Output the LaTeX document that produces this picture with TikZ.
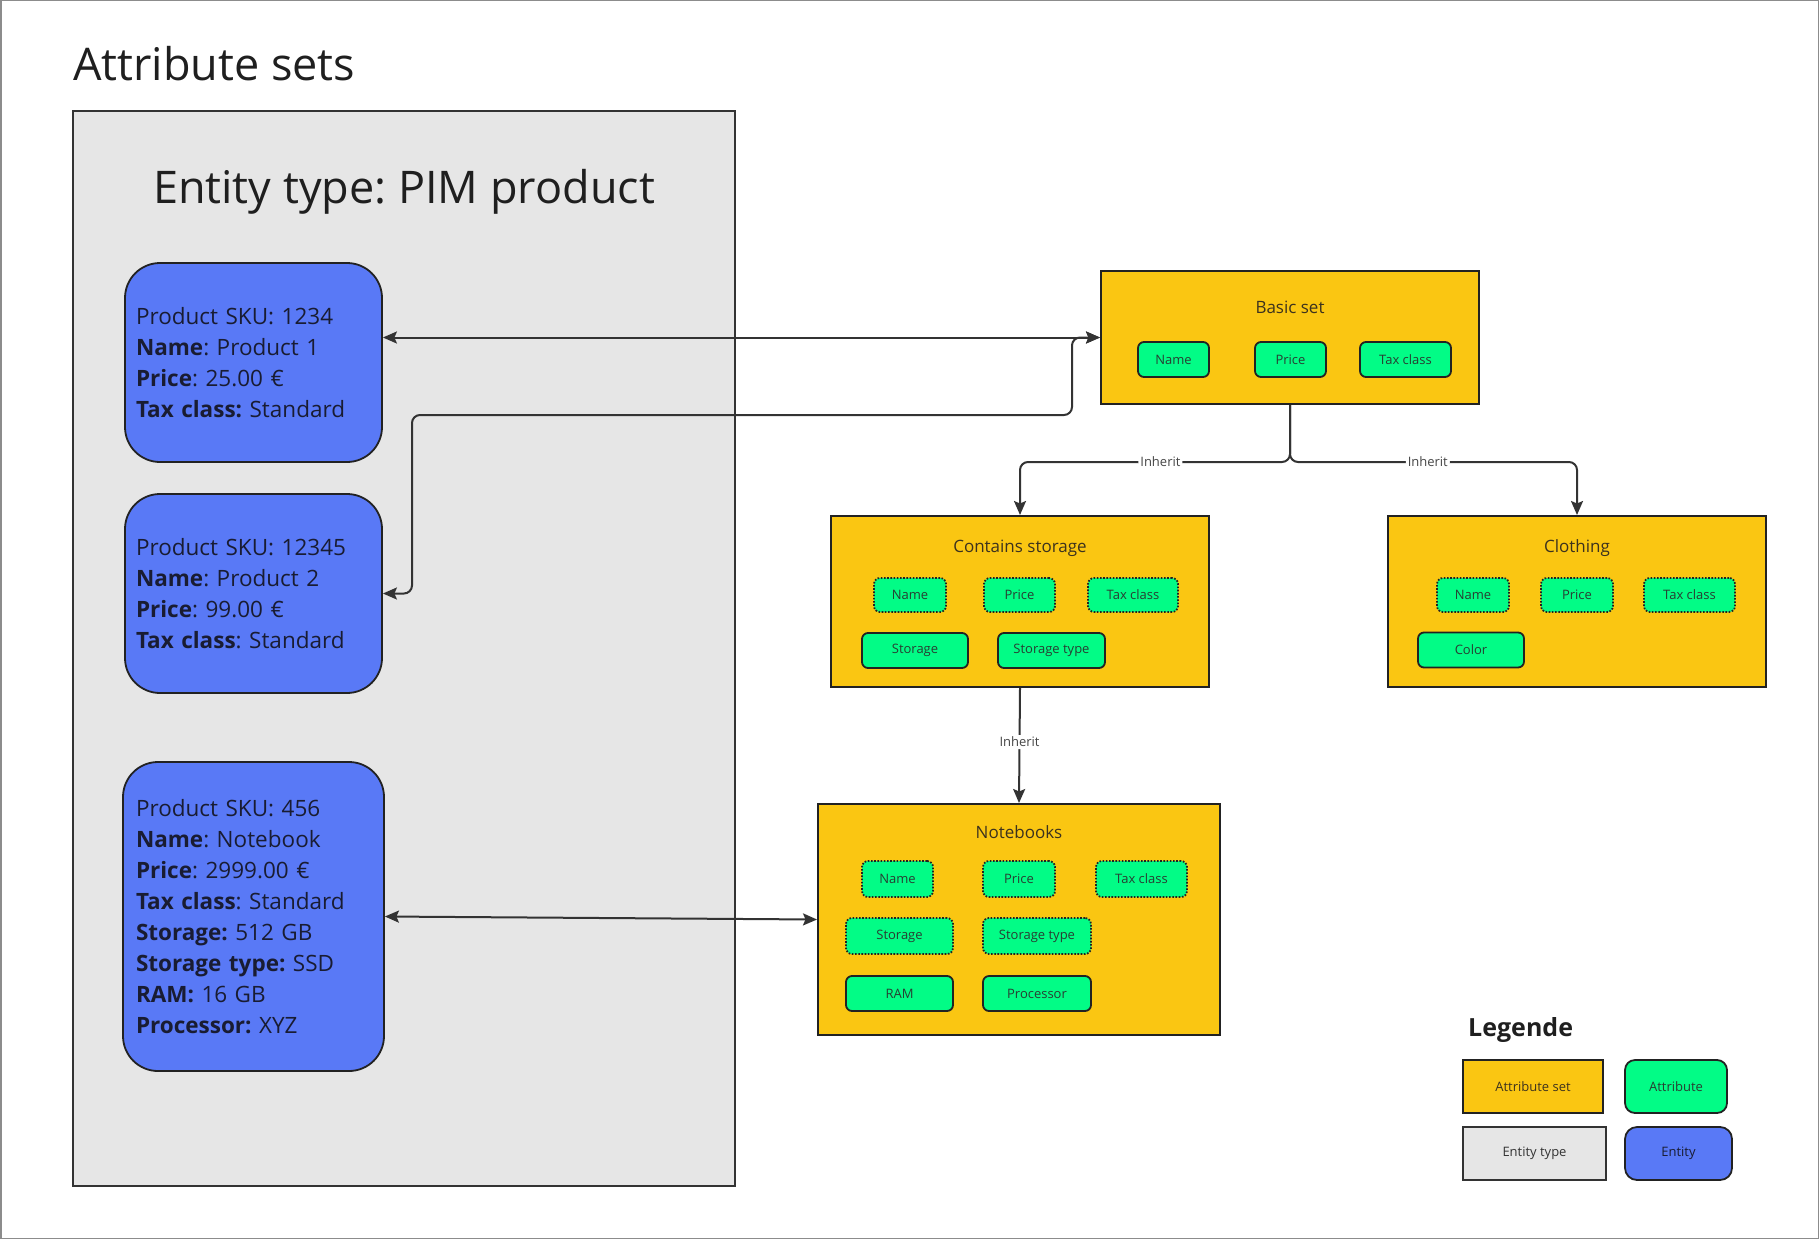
\documentclass[tikz,border=0pt]{standalone}
\usepackage{fontspec}
\setmainfont{Open Sans}
\usetikzlibrary{arrows.meta}
\frenchspacing
\definecolor{setY}{RGB}{250,198,18}
\definecolor{attrG}{RGB}{2,252,134}
\definecolor{entB}{RGB}{89,121,246}
\definecolor{typeG}{RGB}{230,230,230}
\definecolor{bord}{RGB}{34,34,34}
\definecolor{lineC}{RGB}{51,51,51}
\definecolor{attrT}{RGB}{40,62,50}
\definecolor{setT}{RGB}{60,50,30}
\definecolor{entT}{RGB}{25,28,50}
\definecolor{lblT}{RGB}{70,70,70}
\definecolor{frameC}{RGB}{140,140,140}
\begin{document}
\begin{tikzpicture}[x=1pt,y=-1pt,
  >={Stealth[length=14pt,width=12pt,inset=2.5pt]},
  setbox/.style={draw=bord, line width=2pt, fill=setY, inner sep=0pt},
  settitle/.style={anchor=base, inner sep=0pt, text=setT, font=\fontsize{17}{20}\selectfont},
  attr/.style={draw=bord, line width=1.8pt, fill=attrG, rounded corners=6pt, inner sep=0pt,
    text=attrT, font=\fontsize{13}{15}\selectfont},
  inh/.style={attr, dash pattern=on 1.6pt off 1.6pt},
  ent/.style={draw=bord, line width=1.8pt, fill=entB, rounded corners=35pt, align=left,
    inner ysep=0pt, text=entT, font=\fontsize{22.5}{31}\selectfont},
  conn/.style={draw=lineC, line width=2pt, rounded corners=8pt},
  lbl/.style={fill=white, inner sep=2pt, text=lblT, font=\fontsize{13}{15}\selectfont}]
\useasboundingbox (0,0) rectangle (1819,1239);
\draw[frameC, line width=1.5pt] (0.75,0.75) rectangle (1818.25,1238.25);

% title
\node[anchor=base west, inner sep=0pt, text=black!88, font=\fontsize{45}{50}\selectfont] (title) at (73,80) {Attribute sets};

% entity type box
\node[draw=lineC, line width=2pt, fill=typeG, minimum width=662pt, minimum height=1075pt, inner sep=0pt] (etype) at (404,648.5) {};
\node[anchor=base, inner sep=0pt, text=black!88, font=\fontsize{45}{50}\selectfont] (etitle) at (404,203) {Entity type: PIM product};

% entities
\node[ent, inner xsep=11pt, text width=235pt, minimum height=199pt] (e1) at (253.5,362.5)
 {Product SKU: 1234\\\textbf{Name}: Product 1\\\textbf{Price}: 25.00 €\\\textbf{Tax class:} Standard};
\node[ent, inner xsep=11pt, text width=235pt, minimum height=199pt] (e2) at (253.5,593.5)
 {Product SKU: 12345\\\textbf{Name}: Product 2\\\textbf{Price}: 99.00 €\\\textbf{Tax class}: Standard};
\node[ent, inner xsep=13pt, text width=235pt, minimum height=309pt] (e3) at (253.5,916.5)
 {Product SKU: 456\\\textbf{Name}: Notebook\\\textbf{Price}: 2999.00 €\\\textbf{Tax class}: Standard\\\textbf{Storage:} 512 GB\\\textbf{Storage type:} SSD\\\textbf{RAM:} 16 GB\\\textbf{Processor:} XYZ};

% Basic set
\node[setbox, minimum width=378pt, minimum height=133pt] (basic) at (1290,337.5) {};
\node[settitle] (basict) at (1290,313) {Basic set};
\node[attr, minimum width=71pt, minimum height=35pt] (bname) at (1173.5,359.5) {Name};
\node[attr, minimum width=71pt, minimum height=35pt] (bprice) at (1290.5,359.5) {Price};
\node[attr, minimum width=91pt, minimum height=35pt] (btax) at (1405.5,359.5) {Tax class};

% Contains storage
\node[setbox, minimum width=378pt, minimum height=171pt] (cs) at (1020,601.5) {};
\node[settitle] (cst) at (1020,552) {Contains storage};
\node[inh, minimum width=72pt, minimum height=34pt] (cname) at (910,595) {Name};
\node[inh, minimum width=71pt, minimum height=34pt] (cprice) at (1019.5,595) {Price};
\node[inh, minimum width=90pt, minimum height=34pt] (ctax) at (1133,595) {Tax class};
\node[attr, minimum width=106pt, minimum height=35pt] (cstor) at (915,650.5) {Storage};
\node[attr, minimum width=107pt, minimum height=35pt] (cstype) at (1051.5,650.5) {Storage type};

% Clothing
\node[setbox, minimum width=378pt, minimum height=171pt] (cl) at (1577,601.5) {};
\node[settitle] (clt) at (1577,552) {Clothing};
\node[inh, minimum width=72pt, minimum height=34pt] (lname) at (1473,595) {Name};
\node[inh, minimum width=72pt, minimum height=34pt] (lprice) at (1577,595) {Price};
\node[inh, minimum width=91pt, minimum height=34pt] (ltax) at (1689.5,595) {Tax class};
\node[attr, minimum width=106pt, minimum height=35pt] (lcolor) at (1471,650) {Color};

% Notebooks
\node[setbox, minimum width=402pt, minimum height=231pt] (nb) at (1019,919.5) {};
\node[settitle] (nbt) at (1019,838) {Notebooks};
\node[inh, minimum width=71pt, minimum height=36pt] (nname) at (897.5,879) {Name};
\node[inh, minimum width=72pt, minimum height=36pt] (nprice) at (1019,879) {Price};
\node[inh, minimum width=91pt, minimum height=36pt] (ntax) at (1141.5,879) {Tax class};
\node[inh, minimum width=107pt, minimum height=36pt] (nstor) at (899.5,936) {Storage};
\node[inh, minimum width=108pt, minimum height=36pt] (nstype) at (1037,936) {Storage type};
\node[attr, minimum width=107pt, minimum height=35pt] (nram) at (899.5,993.5) {RAM};
\node[attr, minimum width=108pt, minimum height=35pt] (nproc) at (1037,993.5) {Processor};

% connectors
\draw[conn, <->] (e1.east |- basic.west) -- (basic.west);
\draw[conn, <->] (e2.east) -- (412,593.5) -- (412,415) -- (1072,415) -- (1072,337.5) -- (basic.west);
\draw[conn, ->] (basic.south) -- ++(0,57) -| node[lbl, pos=0.24] {Inherit} (cs.north);
\draw[conn, ->] (basic.south) -- ++(0,57) -| node[lbl, pos=0.24] {Inherit} (cl.north);
\draw[conn, ->] (cs.south) -- node[lbl, pos=0.47] {Inherit} (nb.north);
\draw[conn, <->] (e3.east) -- (nb.west);

% legend
\node[anchor=base west, inner sep=0pt, text=black!88, font=\bfseries\fontsize{25}{28}\selectfont] (leg) at (1468,1036) {Legende};
\node[setbox, minimum width=140pt, minimum height=53pt, text=setT, font=\fontsize{13}{15}\selectfont] (lset) at (1533,1086.5) {Attribute set};
\node[attr, rounded corners=10pt, minimum width=102pt, minimum height=53pt] (lattr) at (1676,1086.5) {Attribute};
\node[draw=lineC, line width=2pt, fill=typeG, minimum width=143pt, minimum height=53pt, inner sep=0pt, text=black!80, font=\fontsize{13}{15}\selectfont] (ltype) at (1534.5,1153.5) {Entity type};
\node[draw=bord, line width=1.8pt, fill=entB, rounded corners=12pt, minimum width=107pt, minimum height=53pt, inner sep=0pt, text=entT, font=\fontsize{13}{15}\selectfont] (lent) at (1678.5,1153.5) {Entity};
\end{tikzpicture}
\end{document}
